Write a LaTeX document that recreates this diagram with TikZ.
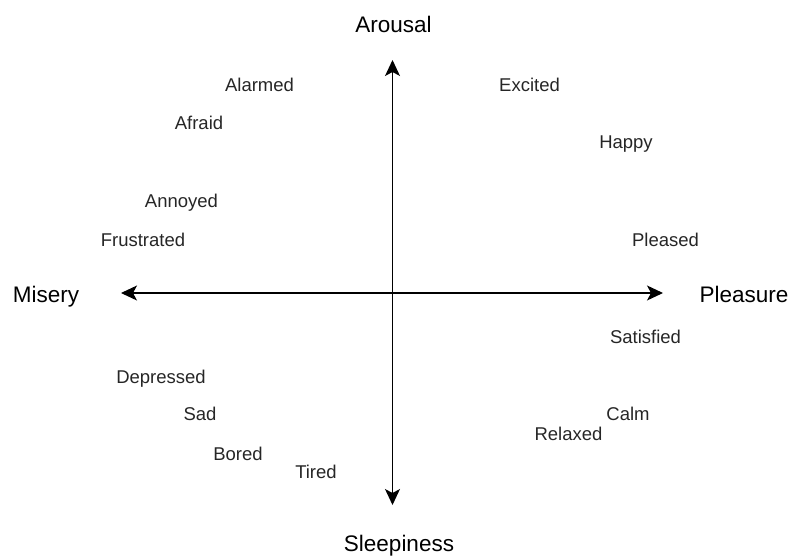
\documentclass[tikz,border=0pt]{standalone}
\usepackage{fontspec}
\setmainfont{Liberation Sans}
\usetikzlibrary{arrows.meta}
\tikzset{
  emotion/.style={anchor=base, inner sep=0pt, text=black!85, font=\fontsize{18.5}{22}\selectfont},
  pole/.style={anchor=base, inner sep=0pt, text=black, font=\fontsize{22.5}{26}\selectfont},
  axis/.style={line width=1.1pt, {Stealth[length=16pt,width=15pt,inset=4pt]}-{Stealth[length=16pt,width=15pt,inset=4pt]}}
}
\begin{document}
\begin{tikzpicture}[x=1pt,y=-1pt]
\useasboundingbox (0,0) rectangle (792,557);
\node[pole] (arousal) at (393.5,32) {Arousal};
\node[pole] (misery) at (46,302) {Misery};
\node[pole] (pleasure) at (744,302) {Pleasure};
\node[pole] (sleepiness) at (399,551) {Sleepiness};
\coordinate (north) at (392.5,60);
\coordinate (south) at (392.5,505);
\coordinate (west) at (121,293);
\coordinate (east) at (663,293);
\node[emotion] (alarmed) at (259.5,91) {Alarmed};
\node[emotion] (afraid) at (199,129) {Afraid};
\node[emotion] (annoyed) at (181.5,207) {Annoyed};
\node[emotion] (frustrated) at (143,246) {Frustrated};
\node[emotion] (excited) at (529.5,91) {Excited};
\node[emotion] (happy) at (626,148) {Happy};
\node[emotion] (pleased) at (665.5,246) {Pleased};
\node[emotion] (satisfied) at (645.5,343) {Satisfied};
\node[emotion] (depressed) at (161,383) {Depressed};
\node[emotion] (sad) at (200,420) {Sad};
\node[emotion] (bored) at (238,460) {Bored};
\node[emotion] (tired) at (316,478) {Tired};
\node[emotion] (calm) at (628,420) {Calm};
\node[emotion] (relaxed) at (568.5,440) {Relaxed};
\draw[axis] (north) to (south);
\draw[axis] (west) to (east);
\end{tikzpicture}
\end{document}
